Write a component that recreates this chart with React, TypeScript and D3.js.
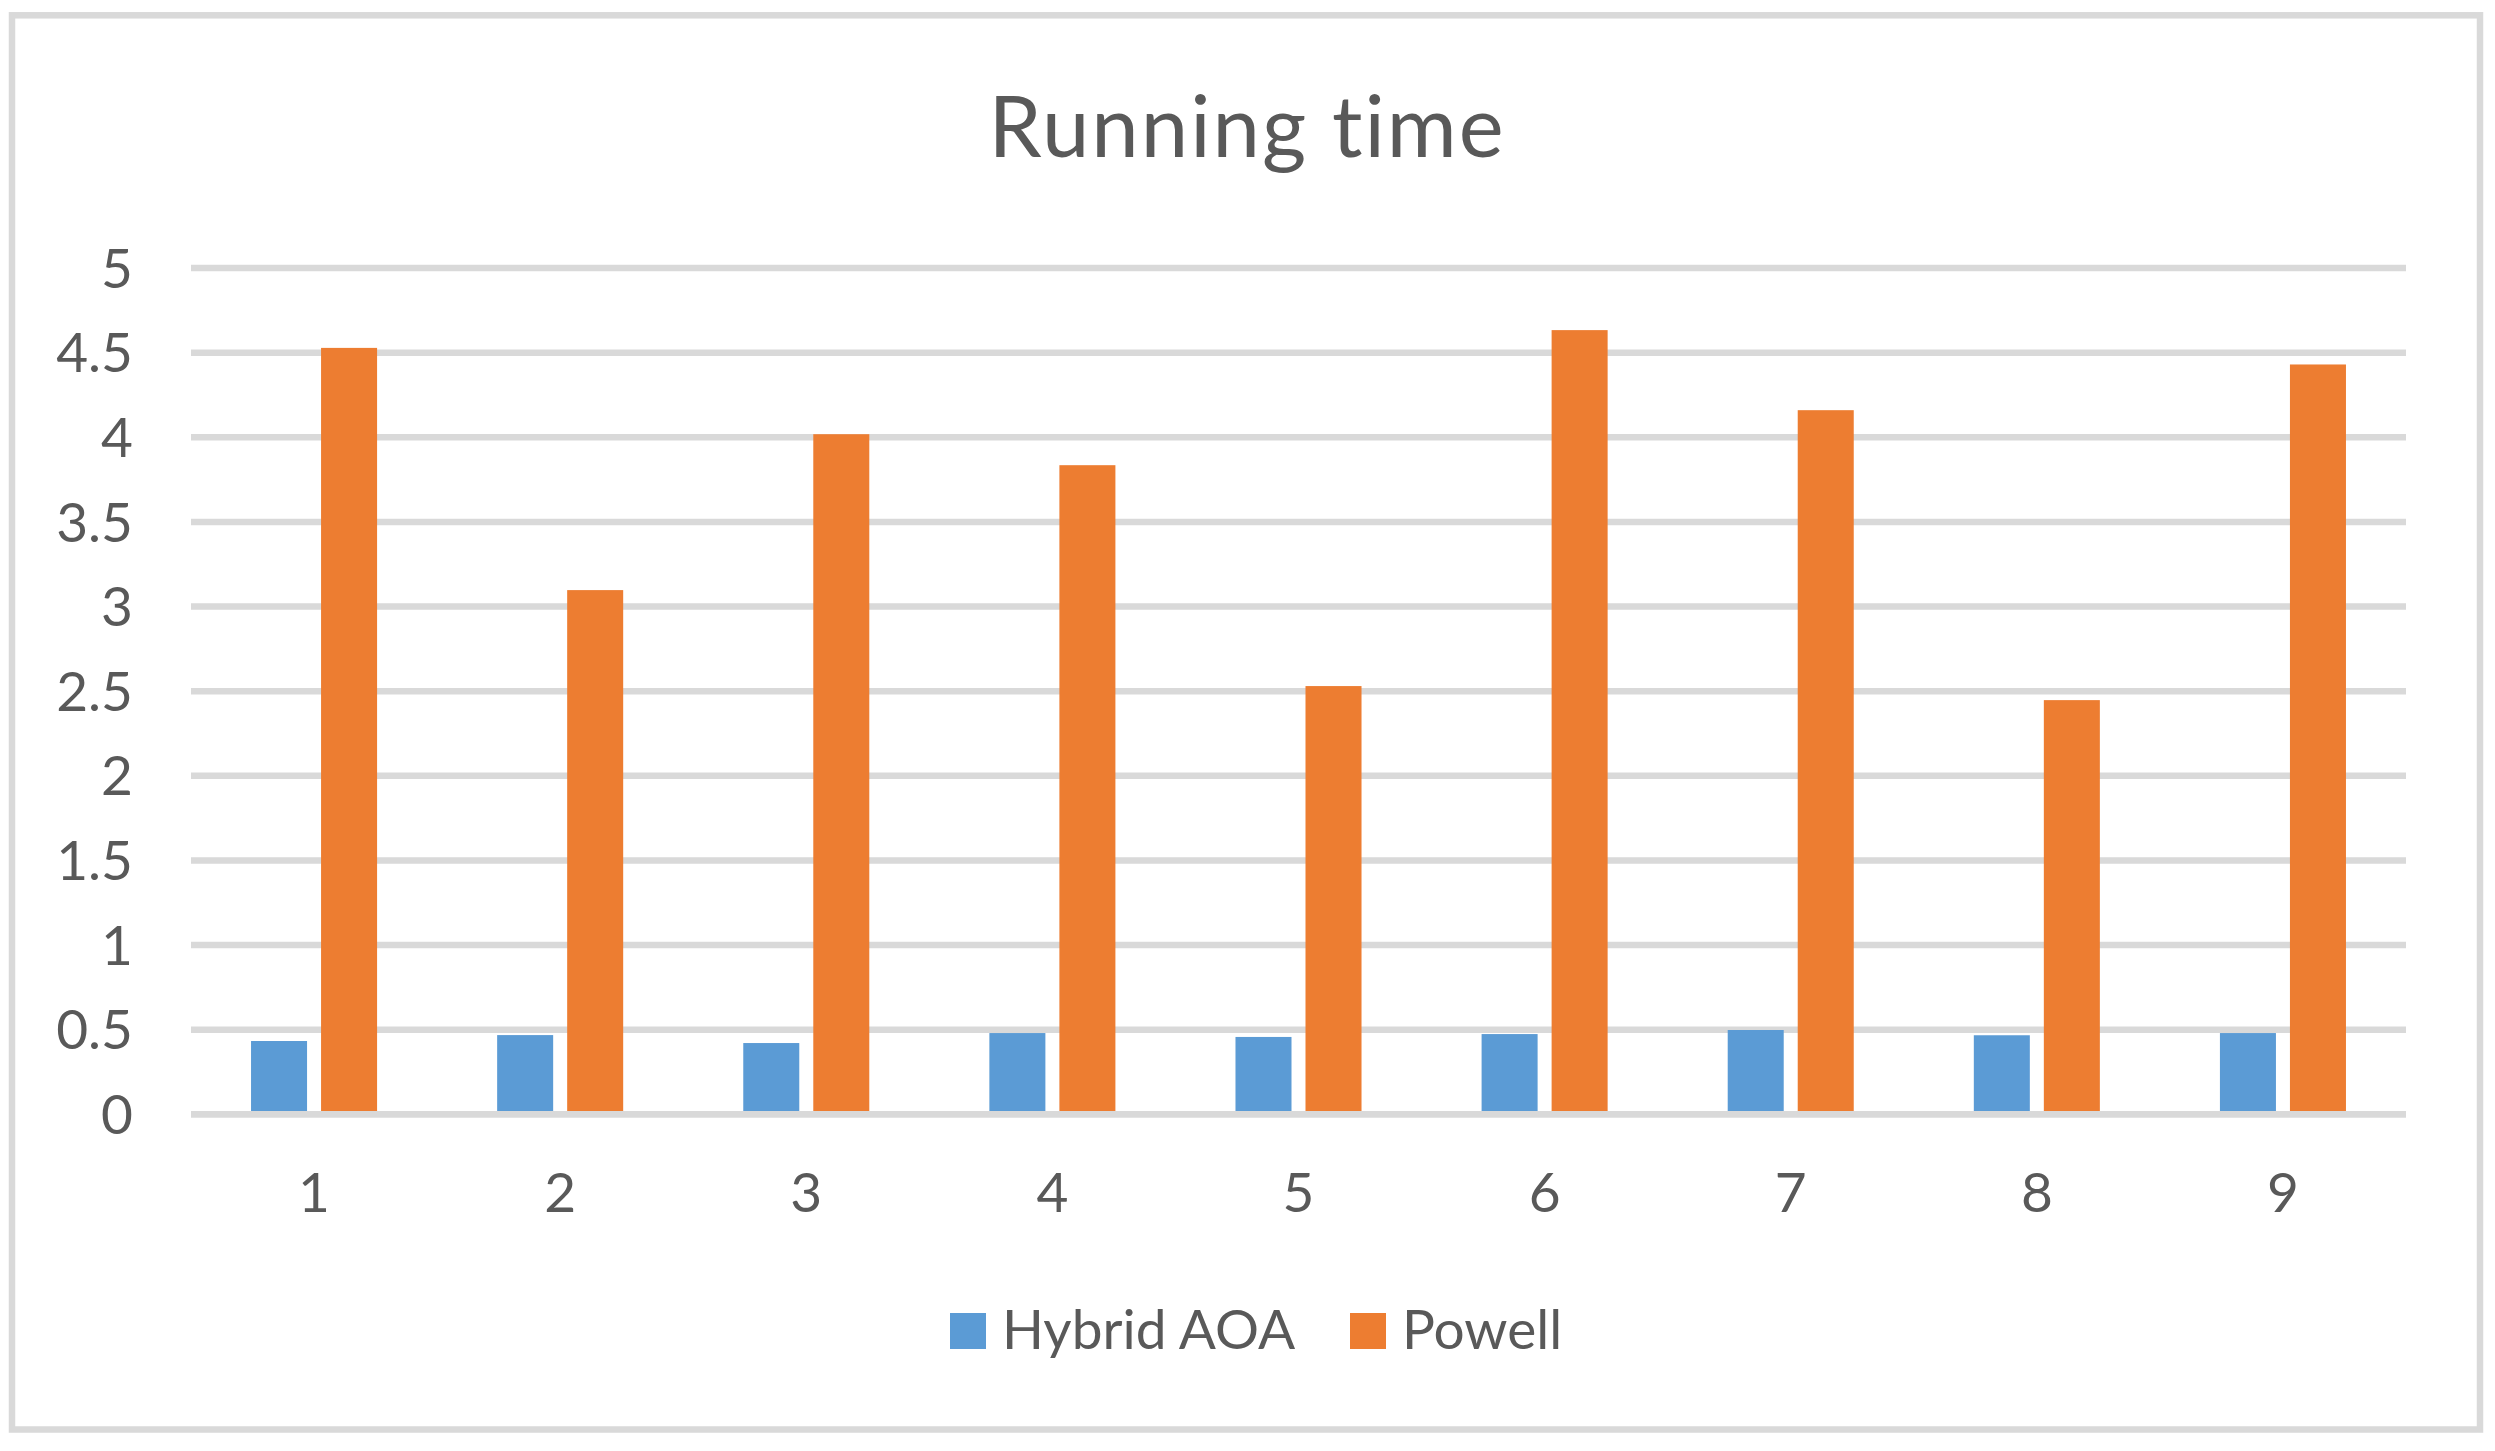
import React from "react";
import * as d3 from "d3";

const categories = ["1", "2", "3", "4", "5", "6", "7", "8", "9"];
const hybridAOA = [0.433, 0.468, 0.421, 0.48, 0.457, 0.474, 0.498, 0.467, 0.48];
const powell = [4.528, 3.097, 4.018, 3.835, 2.53, 4.633, 4.16, 2.447, 4.43];
const yTicks = [0, 0.5, 1, 1.5, 2, 2.5, 3, 3.5, 4, 4.5, 5];
const seriesNames = ["Hybrid AOA", "Powell"];
const seriesColors = ["#5B9BD5", "#ED7D31"];
const title = "Running time";

const W = 2495;
const H = 1451;
const FONT = "Lato, 'Open Sans', sans-serif";
const TEXT = "#595959";
const GRID = "#D9D9D9";

export default function App() {
  React.useEffect(() => {
    document.body.style.margin = "0";
  }, []);

  const x = d3.scaleBand<string>().domain(categories).range([191, 2406]).paddingInner(0).paddingOuter(0);
  const y = d3.scaleLinear().domain([0, 5]).range([1114.3, 268]);
  const band = x.bandwidth();
  const barW = band * 0.2276;
  const gap = barW * 0.25;
  const groupOff = (band - 2 * barW - gap) / 2;
  const series = [hybridAOA, powell];

  return (
    <svg width={W} height={H} style={{ display: "block", position: "absolute", left: 0, top: 0 }}>
      <rect x={0} y={0} width={W} height={H} fill="#fff" />
      <rect x={12} y={15.3} width={2468} height={1414.2} fill="#fff" stroke={GRID} strokeWidth={6.5} />
      <text
        x={1247}
        y={157}
        textAnchor="middle"
        fontFamily={FONT}
        fontSize={85}
        letterSpacing={2}
        fill={TEXT}
      >
        {title}
      </text>
      {yTicks.map((t) => (
        <g key={t}>
          <line x1={191} x2={2406} y1={y(t)} y2={y(t)} stroke={GRID} strokeWidth={6.5} />
          <text x={133} y={y(t) + 19.7} textAnchor="end" fontFamily={FONT} fontSize={55} fill={TEXT}>
            {String(t)}
          </text>
        </g>
      ))}
      {series.map((vals, si) =>
        vals.map((v, i) => (
          <rect
            key={si + "-" + i}
            x={(x(categories[i]) as number) + groupOff + si * (barW + gap)}
            y={y(v)}
            width={barW}
            height={y(0) - y(v)}
            fill={seriesColors[si]}
          />
        ))
      )}
      <line x1={191} x2={2406} y1={y(0)} y2={y(0)} stroke={GRID} strokeWidth={6.5} />
      {categories.map((c) => (
        <text
          key={c}
          x={(x(c) as number) + band / 2}
          y={y(0) + 97.4}
          textAnchor="middle"
          fontFamily={FONT}
          fontSize={55}
          fill={TEXT}
        >
          {c}
        </text>
      ))}
      {seriesNames.map((n, i) => {
        const lx = [950, 1350][i];
        return (
          <g key={n}>
            <rect x={lx} y={1313} width={36} height={36} fill={seriesColors[i]} />
            <text x={lx + 52} y={1349} fontFamily={FONT} fontSize={55} fill={TEXT}>
              {n}
            </text>
          </g>
        );
      })}
    </svg>
  );
}
